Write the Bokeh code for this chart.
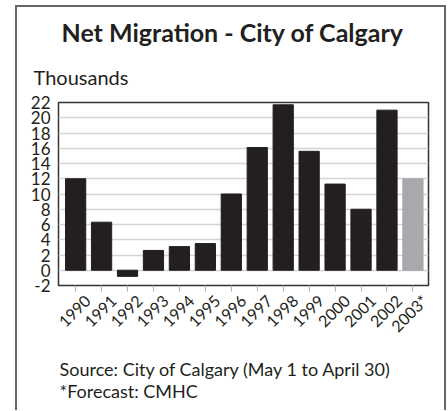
from bokeh.plotting import figure
from bokeh.models import (Range1d, FixedTicker, Title, ColumnDataSource, LinearAxis,
                          CustomLabelingPolicy)
from bokeh.embed import file_html
from bokeh.resources import INLINE
import math

years = ["1990", "1991", "1992", "1993", "1994", "1995", "1996",
         "1997", "1998", "1999", "2000", "2001", "2002", "2003*"]
net_migration = [12.0, 6.3, -0.8, 2.6, 3.1, 3.5, 10.0,
                 16.1, 21.7, 15.6, 11.3, 8.0, 21.0, 12.0]
bar_colors = ["#231f20"] * 13 + ["#a7a9ac"]
y_ticks = [-2, 0, 2, 4, 6, 8, 10, 12, 14, 16, 18, 20, 22]
y_tick_labels = [str(t) for t in y_ticks]
footer_lines = ["Source: City of Calgary (May 1 to April 30)", "*Forecast: CMHC"]

FONT = "Lato"

idx = list(range(len(years)))
src = ColumnDataSource(dict(x=idx, v=net_migration, c=bar_colors, lab=years))

p = figure(width=431, height=405,
           x_range=Range1d(-0.66, 13.6), y_range=Range1d(-2, 22),
           output_backend="svg", toolbar_location=None,
           min_border_left=41, min_border_right=20,
           min_border_top=95, min_border_bottom=20)
p.styles = {"margin-left": "15px", "margin-top": "5px",
            "border-top": "2px solid #666", "border-left": "2px solid #666",
            "border-right": "2px solid #666"}

p.vbar(x="x", top="v", bottom=0, width=0.78, fill_color="c", line_color="c", source=src)

p.outline_line_color = "#333333"
p.outline_line_width = 1.5
p.xgrid.grid_line_color = None
p.ygrid.ticker = FixedTicker(ticks=y_ticks)
p.ygrid.grid_line_color = "#d4d4d4"
p.ygrid.grid_line_width = 1.5

# y axis
p.yaxis.ticker = FixedTicker(ticks=y_ticks)
p.yaxis.major_label_overrides = dict(zip(y_ticks, y_tick_labels))
p.yaxis.axis_line_color = None
p.yaxis.major_tick_line_color = None
p.yaxis.minor_tick_line_color = None
p.yaxis.major_tick_out = 0
p.yaxis.major_tick_in = 0
p.yaxis.major_label_standoff = 8
p.yaxis.major_label_text_font = FONT
p.yaxis.major_label_text_font_size = "17px"
p.yaxis.major_label_text_color = "#231f20"

# x axis: ticks only (labels suppressed by policy)
p.xaxis.ticker = FixedTicker(ticks=idx)
p.xaxis.axis_line_color = None
p.xaxis.major_tick_line_color = "#b0b0b0"
p.xaxis.major_tick_out = 6
p.xaxis.major_tick_in = 0
p.xaxis.minor_tick_line_color = None
p.xaxis.major_label_text_font_size = "0px"
p.xaxis.major_label_standoff = 0
p.xaxis.major_label_policy = CustomLabelingPolicy(code="""
try {
  for (const i of Array.from(indices.ones())) { indices.unset(i) }
} catch (e) {}
return indices
""")

# shifted label axis
p.extra_x_ranges = {"lab": Range1d(-0.66 - 0.45, 13.6 - 0.45)}
lab_axis = LinearAxis(x_range_name="lab", ticker=FixedTicker(ticks=idx))
lab_axis.major_label_overrides = {i: y for i, y in enumerate(years)}
lab_axis.axis_line_color = None
lab_axis.major_tick_line_color = None
lab_axis.minor_tick_line_color = None
lab_axis.major_tick_out = 0
lab_axis.major_tick_in = 0
lab_axis.major_label_standoff = 6
lab_axis.major_label_orientation = math.pi / 4
lab_axis.major_label_text_font = FONT
lab_axis.major_label_text_font_size = "16px"
lab_axis.major_label_text_color = "#231f20"
p.add_layout(lab_axis, "below")

# titles above (closest to frame first)
p.title = None
t_units = Title(text="Thousands", align="left", offset=-25, standoff=27,
                text_font=FONT, text_font_size="20px", text_font_style="normal",
                text_color="#231f20")
p.add_layout(t_units, "above")
t_main = Title(text="Net Migration - City of Calgary", align="left", offset=3, standoff=6,
               text_font=FONT, text_font_size="25px", text_font_style="bold",
               text_color="#231f20")
p.add_layout(t_main, "above")

# footer below
t_foot = Title(text="\n".join(footer_lines), align="left", offset=1,
               standoff=22, text_font=FONT, text_font_size="18px",
               text_font_style="normal", text_color="#231f20", text_line_height=1.0)
p.add_layout(t_foot, "below")

open("out.html", "w").write(file_html(p, INLINE))
